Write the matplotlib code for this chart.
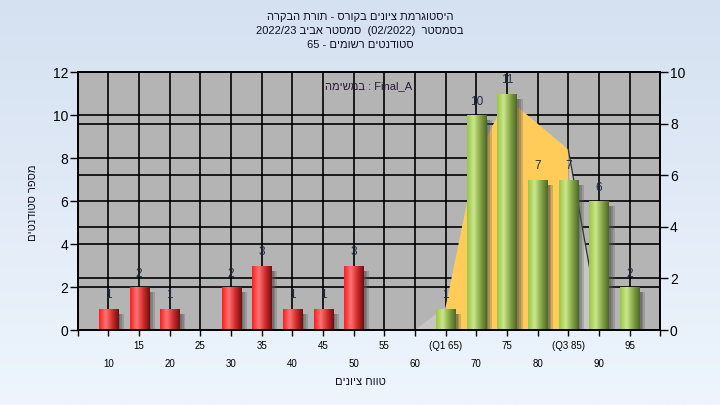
import numpy as np
import matplotlib
matplotlib.use("Agg")
import matplotlib.pyplot as plt
from matplotlib.colors import LinearSegmentedColormap
from matplotlib.patches import Rectangle

plt.rcParams['font.family'] = ['Liberation Sans', 'DejaVu Sans']

# grade bins and number of students
bins = [10, 15, 20, 25, 30, 35, 40, 45, 50, 55, 60, 65, 70, 75, 80, 85, 90, 95]
counts = [1, 2, 1, 0, 2, 3, 1, 1, 3, 0, 0, 1, 10, 11, 7, 7, 6, 2]
pass_from = 65

# distribution polygon (right axis)
curve_x = [60, 65, 70, 75, 80, 85, 90]
curve_y = [0, 0.9, 6.7, 9.0, 8.0, 7.0, 0.4]
q1, q3 = 65, 85

row1_ticks = [15, 25, 35, 45, 55, 65, 75, 85, 95]
row1_labels = ['15', '25', '35', '45', '55', '(Q1 65)', '75', '(Q3 85)', '95']
row2_ticks = [5, 10, 20, 30, 40, 50, 60, 70, 80, 90, 100]
row2_labels = ['', '10', '20', '30', '40', '50', '60', '70', '80', '90', '']


def rev(s):
    return s[::-1]


title1 = rev("היסטוגרמת ציונים בקורס - תורת הבקרה")
title2 = "2022/23 " + rev("סמסטר אביב") + "  (02/2022)  " + rev("בסמסטר")
title3 = "65 - " + rev("סטודנטים רשומים")
note = rev("במשימה") + " : Final_A"
ylab = rev("מספר סטודנטים")
xlab = rev("טווח ציונים")

fig = plt.figure(figsize=(7.2, 4.05), dpi=100)

# background gradient
bg = fig.add_axes([0, 0, 1, 1], zorder=-10)
bg_cmap = LinearSegmentedColormap.from_list('bg', ['#d5e1f1', '#eef5fd'])
bg.imshow(np.linspace(0, 1, 256).reshape(-1, 1), aspect='auto', cmap=bg_cmap,
          extent=[0, 1, 0, 1])
bg.set_axis_off()

ax = fig.add_axes([0.108, 0.185, 0.809, 0.637])
ax.set_facecolor('#b4b4b4')
ax.set_xlim(5, 100)
ax.set_ylim(0, 12)
ax2 = ax.twinx()
ax2.set_ylim(0, 10)

# grid lines
ax.set_axisbelow(True)
ax.set_xticks(row1_ticks)
ax.set_xticks(row2_ticks, minor=True)
ax.grid(True, which='both', axis='x', color='black', lw=1.2, zorder=0.5)
ax.set_yticks(range(0, 13, 2))
ax.grid(True, which='major', axis='y', color='black', lw=1.2, zorder=0.5)
ax.hlines([2, 4, 6, 8], 0, 1, transform=ax2.get_yaxis_transform(),
          color='black', lw=1.2, zorder=0.5)

# distribution polygon
cx = np.array(curve_x, dtype=float)
cy = np.array(curve_y)
mid = (cx >= q1) & (cx <= q3)
left = cx <= q1
right = cx >= q3
for m, col in [(left, '#c6c6c6'), (right, '#c6c6c6'), (mid, '#ffcc5a')]:
    px = np.r_[cx[m], cx[m][::-1][0], cx[m][0]]
    py = np.r_[cy[m], 0, 0]
    ax.fill(px, py, color=col, lw=0, transform=ax2.transData, zorder=0.8)
ax.plot(cx[right], cy[right], color='#303030', lw=0.9,
        transform=ax2.transData, zorder=0.9)

# bars with shadow and cylinder shading
red_cmap = LinearSegmentedColormap.from_list(
    'r', ['#ff1c1c', '#ff7474', '#d42c2c', '#6e1010'])
green_cmap = LinearSegmentedColormap.from_list(
    'g', ['#9cc444', '#cae78c', '#86a646', '#4c6826'])
w = 3.1
grad = np.linspace(0, 1, 64).reshape(1, -1)
bars = ax.bar(bins, counts, width=w, color='none', lw=0, zorder=2)
for b, n, c in zip(bars, counts, bins):
    if n == 0:
        continue
    x0 = b.get_x()
    for k, a in [(1.0, 0.25), (0.7, 0.3), (0.4, 0.35)]:
        ax.add_patch(Rectangle((x0 + w, 0), k, max(n - 0.25, 0.05),
                               color='#505050', alpha=a, lw=0, zorder=1.5))
    cmap = red_cmap if c < pass_from else green_cmap
    im = ax.imshow(grad, cmap=cmap, aspect='auto', zorder=2,
                   extent=[x0, x0 + w, 0, n], interpolation='bilinear')
    im.set_clip_path(b)
    ax.text(c, n + 0.35, str(n), ha='center', va='bottom', fontsize=8.5,
            color='#1c2c48', zorder=3)

ax.set_xlim(5, 100)
ax.set_ylim(0, 12)

# ticks
ax.set_xticklabels(row1_labels, fontsize=7)
ax.set_xticklabels(row2_labels, minor=True, fontsize=7)
ax.tick_params(axis='x', which='major', length=4, width=1, pad=4, colors='black')
ax.tick_params(axis='x', which='minor', length=4, width=1, pad=17, colors='black')
ax.tick_params(axis='y', length=6, width=1, labelsize=10, pad=1)
ax2.set_yticks(range(0, 11, 2))
ax2.tick_params(axis='y', length=6, width=1, labelsize=10, pad=1)
for a in (ax, ax2):
    for s in a.spines.values():
        s.set_linewidth(1.2)
        s.set_color('black')

ax.text(0.5, 0.945, note, transform=ax.transAxes, ha='center', va='center',
        fontsize=8, color='#2a1838', zorder=4)

fig.text(0.5, 0.058, xlab, ha='center', va='center', fontsize=8, color='#101020')
fig.text(0.046, 0.50, ylab, ha='center', va='center', rotation=90,
         fontsize=8, color='#101020')

fig.text(0.5, 0.957, title1, ha='center', va='center', fontsize=8, color='#101020')
fig.text(0.5, 0.923, title2, ha='center', va='center', fontsize=8, color='#101020')
fig.text(0.5, 0.890, title3, ha='center', va='center', fontsize=8, color='#101020')

fig.savefig('out.png', dpi=100)
